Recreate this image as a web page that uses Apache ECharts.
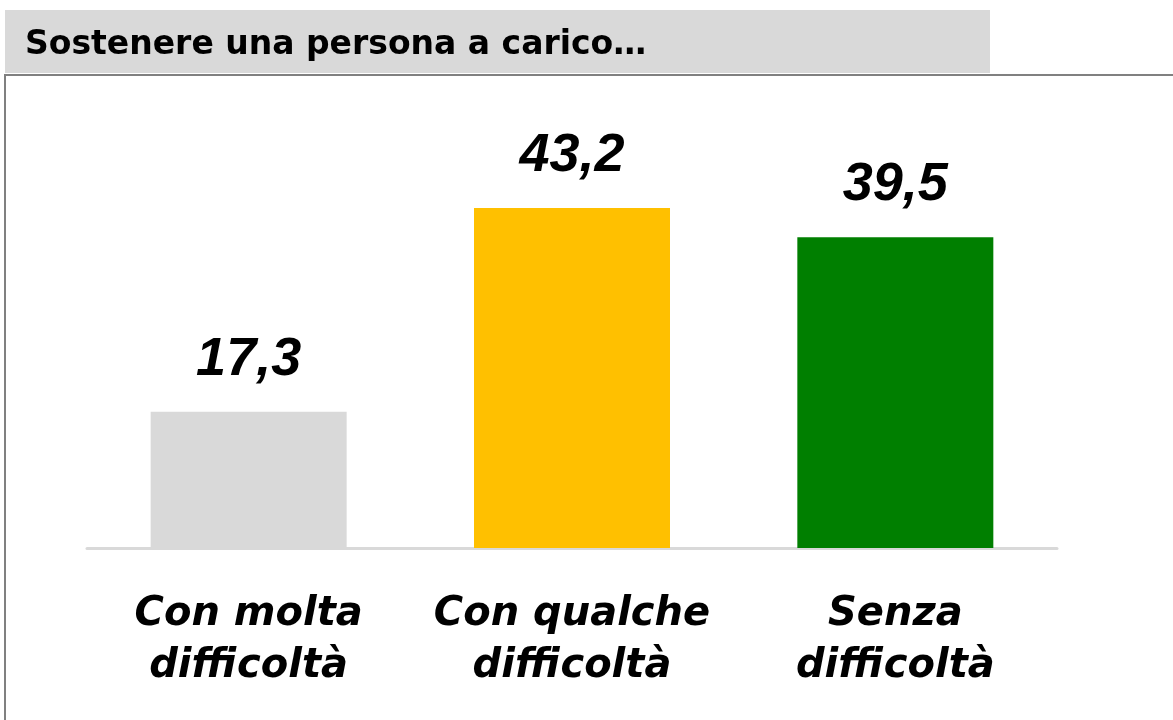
<!DOCTYPE html>
<html>
<head>
<meta charset="utf-8">
<script src="https://cdn.jsdelivr.net/npm/echarts@6/dist/echarts.min.js"></script>
<style>
  html, body { margin: 0; padding: 0; background: #fff; }
  #chart { width: 1173px; height: 720px; }
</style>
</head>
<body>
<div id="chart"></div>
<script>
const titleText = 'Sostenere una persona a carico…'
const categories = ['Con molta\ndifficoltà', 'Con qualche\ndifficoltà', 'Senza\ndifficoltà']
const values = [17.3, 43.2, 39.5]
const barColors = ['#d9d9d9', '#ffc000', '#007f00']

const chart = echarts.init(document.getElementById('chart'))

chart.setOption({
  animation: false,
  title: {
    text: titleText,
    left: 20, top: 24,
    textStyle: { fontFamily: 'DejaVu Sans', fontWeight: 'bold', fontSize: 33, color: '#000' }
  },
  graphic: [
    { type: 'rect', z: -1, shape: { x: 5, y: 10, width: 985, height: 63 }, style: { fill: '#d9d9d9' } },
    { type: 'line', shape: { x1: 5, y1: 75, x2: 1173, y2: 75 }, style: { stroke: '#808080', lineWidth: 2 } },
    { type: 'line', shape: { x1: 5, y1: 74, x2: 5, y2: 720 }, style: { stroke: '#808080', lineWidth: 2 } }
  ],
  grid: { left: 87, right: 116, top: 154.5, bottom: 172, containLabel: false },
  xAxis: {
    type: 'category',
    data: categories,
    axisTick: { show: false },
    axisLine: { lineStyle: { color: '#d9d9d9', width: 3 } },
    axisLabel: {
      interval: 0, hideOverlap: false,
      margin: 41,
      fontFamily: 'DejaVu Sans', fontWeight: 'bold', fontStyle: 'italic',
      fontSize: 40, lineHeight: 52, color: '#000'
    }
  },
  yAxis: { type: 'value', min: 0, max: 50, show: false, splitLine: { show: false } },
  series: [{
    type: 'bar',
    barWidth: 196,
    data: values.map((v, i) => ({ value: v, itemStyle: { color: barColors[i] } })),
    label: {
      show: true, position: 'top', distance: 25,
      formatter: p => p.value.toFixed(1).replace('.', ','),
      fontFamily: 'Liberation Sans', fontWeight: 'bold', fontStyle: 'italic',
      fontSize: 54, color: '#000'
    }
  }]
})
</script>
</body>
</html>
